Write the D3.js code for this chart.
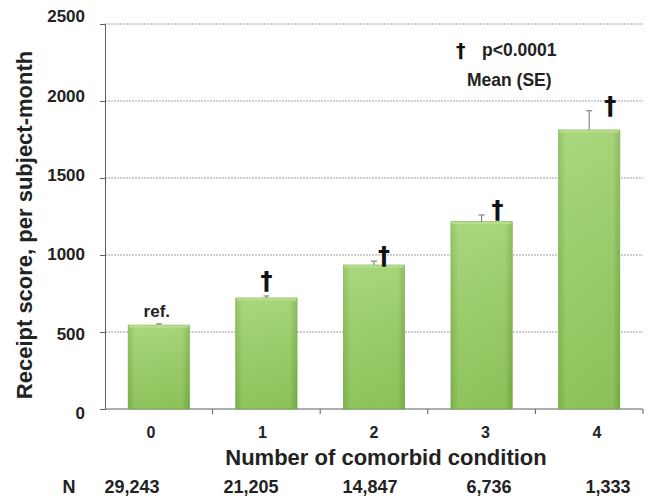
<!DOCTYPE html>
<html>
<head>
<meta charset="utf-8">
<script src="https://d3js.org/d3.v7.min.js"></script>
<style>
  body { margin: 0; background: #fff; }
  text { font-family: "Liberation Sans", Arial, sans-serif; font-weight: bold; fill: #222; }
  text.dag { font-family: "DejaVu Sans", sans-serif; font-weight: bold; fill: #111; }
</style>
</head>
<body>
<svg width="651" height="499"></svg>
<script>
// chart data
var categories = ["0", "1", "2", "3", "4"];
var means = [545, 721, 935, 1216, 1812];
var se = [8, 13, 25, 44, 125];
var marks = ["ref.", "\u2020", "\u2020", "\u2020", "\u2020"];
var counts = ["29,243", "21,205", "14,847", "6,736", "1,333"];
var yTicks = [0, 500, 1000, 1500, 2000, 2500];

// label nudges (the marks sit beside the error bars)
var markDx = [-2, 0, 10, 16, 21];

var svg = d3.select("svg");

var x = d3.scaleBand().domain(categories).range([105, 643]).paddingInner(0.43).paddingOuter(0.215);
var y = d3.scaleLinear().domain([0, 2500]).range([409, 24]);
// the scanned labels are spaced a little wider than the plot itself
var yLab = d3.scaleLinear().domain([0, 2500]).range([413, 16]);
var xLab = d3.scalePoint().domain(categories).range([151, 597]);
var nPos = d3.scalePoint().domain(categories).range([132, 608]);

var defs = svg.append("defs");
var grad = defs.append("linearGradient").attr("id", "barGrad")
  .attr("x1", "0").attr("x2", "1").attr("y1", "0").attr("y2", "0");
grad.append("stop").attr("offset", "0%").attr("stop-color", "#82bb50");
grad.append("stop").attr("offset", "12%").attr("stop-color", "#9bd067");
grad.append("stop").attr("offset", "88%").attr("stop-color", "#97cd63");
grad.append("stop").attr("offset", "100%").attr("stop-color", "#7ab247");
var vgrad = defs.append("linearGradient").attr("id", "barShade")
  .attr("x1", "0").attr("x2", "0").attr("y1", "0").attr("y2", "1");
vgrad.append("stop").attr("offset", "0%").attr("stop-color", "#ffffff").attr("stop-opacity", 0.15);
vgrad.append("stop").attr("offset", "100%").attr("stop-color", "#3a6a10").attr("stop-opacity", 0.12);

// grid lines
svg.append("g").selectAll("line")
  .data(yTicks.filter(function(d) { return d > 0; }))
  .enter().append("line")
  .attr("x1", 105).attr("x2", 643)
  .attr("y1", function(d) { return y(d); })
  .attr("y2", function(d) { return y(d); })
  .attr("stroke", "#9a9ea8").attr("stroke-width", 1)
  .attr("stroke-dasharray", "2,1");

// y axis
var yAxis = svg.append("g").attr("transform", "translate(105,0)")
  .call(d3.axisLeft(y).tickValues(yTicks).tickSize(5).tickFormat(""));
yAxis.select(".domain").attr("stroke", "#5a5f6b");
yAxis.selectAll(".tick line").attr("stroke", "#5a5f6b");
svg.append("g").selectAll("text")
  .data(yTicks).enter().append("text")
  .attr("x", 85).attr("y", function(d) { return yLab(d); })
  .attr("dy", "0.36em").attr("text-anchor", "end")
  .style("font-size", "17px")
  .text(function(d) { return d; });

// x axis
var xAxis = svg.append("g").attr("transform", "translate(0,409)")
  .call(d3.axisBottom(x).tickSize(0).tickFormat(""));
xAxis.select(".domain").attr("stroke", "#5a5f6b").attr("d", "M105,0H643");
var step = x.step();
xAxis.selectAll(".sep").data(d3.range(1, categories.length + 1))
  .enter().append("line")
  .attr("x1", function(i) { return 105 + i * step; })
  .attr("x2", function(i) { return 105 + i * step; })
  .attr("y1", 0).attr("y2", 5)
  .attr("stroke", "#5a5f6b");
svg.append("g").selectAll("text")
  .data(categories).enter().append("text")
  .attr("x", function(d) { return xLab(d); })
  .attr("y", 438).attr("text-anchor", "middle")
  .style("font-size", "16px")
  .text(function(d) { return d; });

// bars
var bars = svg.append("g");
bars.selectAll("rect.b")
  .data(means).enter().append("rect")
  .attr("class", "b")
  .attr("x", function(d, i) { return x(categories[i]); })
  .attr("y", function(d) { return y(d); })
  .attr("width", x.bandwidth())
  .attr("height", function(d) { return y(0) - y(d); })
  .attr("fill", "url(#barGrad)")
  .attr("stroke", "#74a844").attr("stroke-width", 0.6);
bars.selectAll("rect.s")
  .data(means).enter().append("rect")
  .attr("class", "s")
  .attr("x", function(d, i) { return x(categories[i]); })
  .attr("y", function(d) { return y(d); })
  .attr("width", x.bandwidth())
  .attr("height", function(d) { return y(0) - y(d); })
  .attr("fill", "url(#barShade)");
bars.selectAll("line.hl")
  .data(means).enter().append("line")
  .attr("class", "hl")
  .attr("x1", function(d, i) { return x(categories[i]) + 1; })
  .attr("x2", function(d, i) { return x(categories[i]) + x.bandwidth() - 1; })
  .attr("y1", function(d) { return y(d) + 1.5; })
  .attr("y2", function(d) { return y(d) + 1.5; })
  .attr("stroke", "#b9e08e").attr("stroke-width", 2);

// error bars
var eb = svg.append("g").attr("stroke", "#858585").attr("stroke-width", 1.2);
means.forEach(function(m, i) {
  var cx = x(categories[i]) + x.bandwidth() / 2;
  eb.append("line").attr("x1", cx).attr("x2", cx).attr("y1", y(m)).attr("y2", y(m + se[i]));
  eb.append("line").attr("x1", cx - 3).attr("x2", cx + 3).attr("y1", y(m + se[i])).attr("y2", y(m + se[i]));
});

// significance marks
svg.append("g").selectAll("text")
  .data(marks).enter().append("text")
  .attr("class", function(d, i) { return i === 0 ? null : "dag"; })
  .attr("x", function(d, i) { return x(categories[i]) + x.bandwidth() / 2 + markDx[i]; })
  .attr("y", function(d, i) {
    return i < 2 ? y(means[i] + se[i]) - 7 : y(means[i] + se[i]) + 3;
  })
  .attr("text-anchor", "middle")
  .style("font-size", function(d, i) { return i === 0 ? "17px" : "24px"; })
  .text(function(d) { return d; });

// legend
svg.append("text").attr("class", "dag").attr("x", 456).attr("y", 57).style("font-size", "19px").text("\u2020");
svg.append("text").attr("x", 482).attr("y", 56).style("font-size", "17.5px").text("p<0.0001");
svg.append("text").attr("x", 467).attr("y", 86).style("font-size", "17.5px").text("Mean (SE)");

// axis titles
svg.append("text")
  .attr("transform", "translate(32,225) rotate(-90)")
  .attr("text-anchor", "middle").style("font-size", "22px")
  .text("Receipt score, per subject-month");
svg.append("text")
  .attr("x", 386).attr("y", 465).attr("text-anchor", "middle").style("font-size", "22px")
  .text("Number of comorbid condition");

// N row
svg.append("text").attr("x", 69).attr("y", 493).attr("text-anchor", "middle").style("font-size", "18px").text("N");
svg.append("g").selectAll("text")
  .data(counts).enter().append("text")
  .attr("x", function(d, i) { return nPos(categories[i]); })
  .attr("y", 493).attr("text-anchor", "middle").style("font-size", "18px")
  .text(function(d) { return d; });
</script>
</body>
</html>
